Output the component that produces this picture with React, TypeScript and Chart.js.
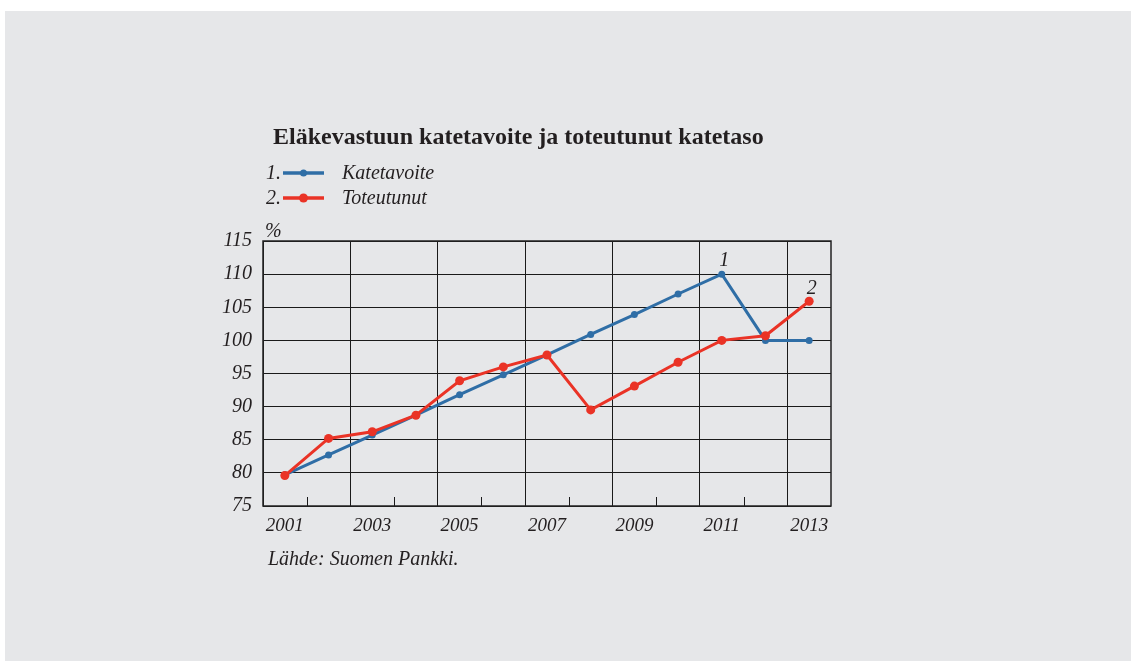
import React, { useEffect, useRef } from 'react';
import { Chart, registerables } from 'chart.js';

Chart.register(...registerables);

const years = ['2001', '2002', '2003', '2004', '2005', '2006', '2007', '2008', '2009', '2010', '2011', '2012', '2013'];
const katetavoite = [79.7, 82.7, 85.7, 88.7, 91.8, 94.8, 97.8, 100.9, 103.9, 107.0, 110.0, 100.0, 100.0];
const toteutunut = [79.6, 85.2, 86.2, 88.7, 93.9, 96.0, 97.8, 89.5, 93.1, 96.7, 100.0, 100.7, 105.9];
const yTicks = [75, 80, 85, 90, 95, 100, 105, 110, 115];

const titleText = 'Eläkevastuun katetavoite ja toteutunut katetaso';
const legendNames = ['Katetavoite', 'Toteutunut'];
const sourceText = 'Lähde: Suomen Pankki.';
const unitText = '%';

const BLUE = '#2f6ea6';
const RED = '#ea3326';
const INK = '#231f20';
const GRID = '#1a1a1a';
const SERIF = '"Liberation Serif", "Times New Roman", serif';

const decorations = {
  id: 'decorations',
  beforeDatasetsDraw(chart: any) {
    const { ctx, chartArea } = chart;
    const x = chart.scales.x;
    ctx.save();
    ctx.strokeStyle = GRID;
    ctx.lineWidth = 1;
    for (let k = 1; k < years.length; k += 2) {
      const bx = (x.getPixelForValue(k - 1) + x.getPixelForValue(k)) / 2;
      ctx.beginPath();
      ctx.moveTo(Math.round(bx) + 0.5, chartArea.bottom);
      ctx.lineTo(Math.round(bx) + 0.5, chartArea.bottom - 9);
      ctx.stroke();
    }
    ctx.lineWidth = 1.5;
    ctx.strokeStyle = '#222';
    ctx.strokeRect(chartArea.left, chartArea.top, chartArea.right - chartArea.left, chartArea.bottom - chartArea.top);
    ctx.restore();
  },
  afterDraw(chart: any) {
    const { ctx, chartArea } = chart;
    ctx.save();
    ctx.fillStyle = INK;
    ctx.textAlign = 'left';
    ctx.textBaseline = 'alphabetic';
    ctx.font = `bold 24px ${SERIF}`;
    ctx.fillText(titleText, 273, 144);

    const rows = [
      { num: '1.', color: BLUE, y: 173, r: 3.5 },
      { num: '2.', color: RED, y: 198, r: 4.5 },
    ];
    rows.forEach((row, i) => {
      ctx.font = `italic 20px ${SERIF}`;
      ctx.fillStyle = INK;
      ctx.textAlign = 'right';
      ctx.fillText(row.num, 281, row.y + 6);
      ctx.strokeStyle = row.color;
      ctx.lineWidth = 3.5;
      ctx.beginPath();
      ctx.moveTo(283, row.y);
      ctx.lineTo(324, row.y);
      ctx.stroke();
      ctx.fillStyle = row.color;
      ctx.beginPath();
      ctx.arc(303.5, row.y, row.r, 0, Math.PI * 2);
      ctx.fill();
      ctx.fillStyle = INK;
      ctx.textAlign = 'left';
      ctx.fillText(legendNames[i], 342, row.y + 6);
    });

    ctx.font = `italic 20px ${SERIF}`;
    ctx.textAlign = 'left';
    ctx.fillText(unitText, chartArea.left + 2, chartArea.top - 4);

    const m0 = chart.getDatasetMeta(1);
    const m1 = chart.getDatasetMeta(0);
    const pb = m0.data[10];
    const pr = m1.data[12];
    ctx.textAlign = 'center';
    ctx.fillText('1', pb.x + 2.5, pb.y - 8);
    ctx.fillText('2', pr.x + 2.5, pr.y - 7);

    ctx.textAlign = 'left';
    ctx.fillText(sourceText, 268, 565);
    ctx.restore();
  },
};

export default function App() {
  const ref = useRef<HTMLCanvasElement | null>(null);
  useEffect(() => {
    if (!ref.current) return;
    const chart = new Chart(ref.current, {
      type: 'line',
      data: {
        labels: years,
        datasets: [
          {
            label: legendNames[1],
            data: toteutunut,
            borderColor: RED,
            backgroundColor: RED,
            borderWidth: 3,
            pointRadius: 4.5,
            pointBorderWidth: 0,
            pointBackgroundColor: RED,
            tension: 0,
            order: 0,
          },
          {
            label: legendNames[0],
            data: katetavoite,
            borderColor: BLUE,
            backgroundColor: BLUE,
            borderWidth: 3,
            pointRadius: 3.5,
            pointBorderWidth: 0,
            pointBackgroundColor: BLUE,
            tension: 0,
            order: 1,
          },
        ],
      },
      options: {
        responsive: false,
        animation: false,
        devicePixelRatio: 1,
        layout: { padding: { top: 241, right: 300, left: 0, bottom: 0 } },
        plugins: {
          legend: { display: false },
          title: { display: false },
          tooltip: { enabled: false },
        },
        scales: {
          x: {
            type: 'category',
            offset: true,
            afterFit(scale: any) {
              scale.height = 155;
            },
            grid: {
              offset: true,
              drawTicks: false,
              lineWidth: 1,
              color: (c: any) => (c.index % 2 === 0 ? GRID : 'rgba(0,0,0,0)'),
            },
            border: { display: false },
            ticks: {
              autoSkip: false,
              maxRotation: 0,
              padding: 9,
              color: INK,
              font: { family: SERIF, size: 19, style: 'italic' },
              callback: (v: any, i: number) => (i % 2 === 0 ? years[i] : ''),
            },
          },
          y: {
            min: 75,
            max: 115,
            afterFit(scale: any) {
              scale.width = 263;
            },
            afterBuildTicks(scale: any) {
              scale.ticks = yTicks.map((v) => ({ value: v }));
            },
            grid: { drawTicks: false, color: GRID, lineWidth: 1 },
            border: { display: false },
            ticks: {
              padding: 11,
              color: INK,
              font: { family: SERIF, size: 20, style: 'italic' },
            },
          },
        },
      },
      plugins: [decorations],
    });
    return () => chart.destroy();
  }, []);
  return (
    <div style={{ position: 'fixed', left: 0, top: 0, width: 1131, height: 661, background: '#ffffff' }}>
      <div style={{ position: 'absolute', left: 5, top: 11, right: 0, bottom: 0, background: '#e6e7e9' }} />
      <canvas ref={ref} width={1131} height={661} style={{ position: 'absolute', left: 0, top: 0, width: 1131, height: 661 }} />
    </div>
  );
}
